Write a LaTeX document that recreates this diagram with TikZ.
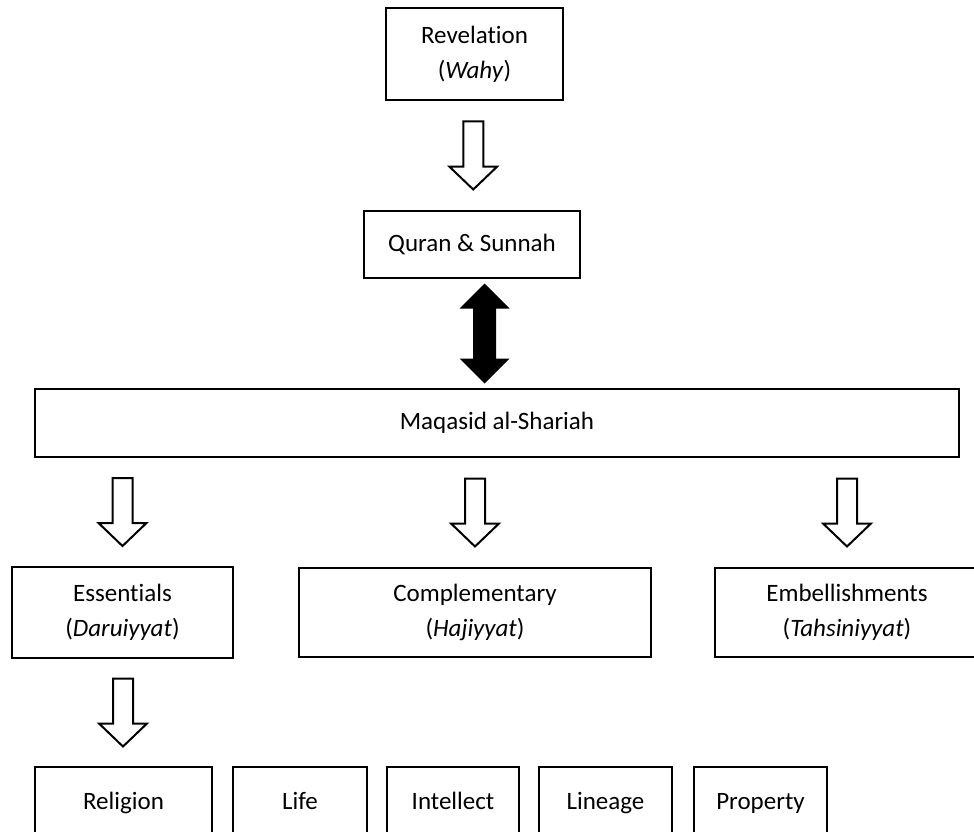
\documentclass[tikz,border=0pt]{standalone}
\usepackage{fontspec}
\setmainfont{Carlito}[Ligatures=NoCommon]
\usetikzlibrary{calc}

\tikzset{
  box/.style={draw, line width=2.5pt, inner sep=0pt, align=center,
    font=\fontsize{25}{35}\selectfont},
  downarrow/.pic={
    \draw[line width=2pt, fill=white] (-10,-34) -- (-10,11) -- (-24,11) -- (0,34)
      -- (24,11) -- (10,11) -- (10,-34) -- cycle;
  },
  bothways/.pic={
    \fill (0,-50) -- (25,-25) -- (11.5,-25) -- (11.5,25) -- (25,25) -- (0,50)
      -- (-25,25) -- (-11.5,25) -- (-11.5,-25) -- (-25,-25) -- cycle;
  }
}

\begin{document}
\begin{tikzpicture}[x=1pt,y=-1pt]
        \useasboundingbox (0,0) rectangle (974,832);
        \clip (0,0) rectangle (974,832);
        \node[box, minimum width=177pt, minimum height=92pt] (rev) at (474.5,54) {Revelation\\(\textit{Wahy})};
        \node[box, minimum width=216pt, minimum height=67pt] (quran) at (472,244.5) {Quran \& Sunnah};
        \node[box, minimum width=924pt, minimum height=68pt] (maqasid) at (497,423) {Maqasid al-Shariah};
        \node[box, minimum width=221pt, minimum height=91pt] (ess) at (122.5,612.5) {Essentials\\(\textit{Daruiyyat})};
        \node[box, minimum width=352pt, minimum height=89pt] (comp) at (475,612.5) {Complementary\\(\textit{Hajiyyat})};
        \node[box, minimum width=264pt, minimum height=89pt] (emb) at (847,612.5) {Embellishments\\(\textit{Tahsiniyyat})};
        \foreach \nm/\txt/\cx/\w in {religion/Religion/123.5/177, life/Life/300/134, intellect/Intellect/453/132, lineage/Lineage/605.5/133, property/Property/760.5/133} {
            \node[box, minimum width=\w pt, minimum height=72pt, text height=18pt, text depth=6pt] (\nm) at (\cx,803) {\txt};
        }
        \pic at ($(rev.south)!.5!(quran.north)$) {downarrow};
        \pic at ($(quran.south)!.5!(maqasid.north)$) {bothways};
        \foreach \b in {ess,comp,emb}
            \pic at ($(maqasid.south -| \b.north)!.5!(\b.north)$) {downarrow};
        \pic at ($(ess.south)!.5!(religion.north)$) {downarrow};
    \end{tikzpicture}
\end{document}
